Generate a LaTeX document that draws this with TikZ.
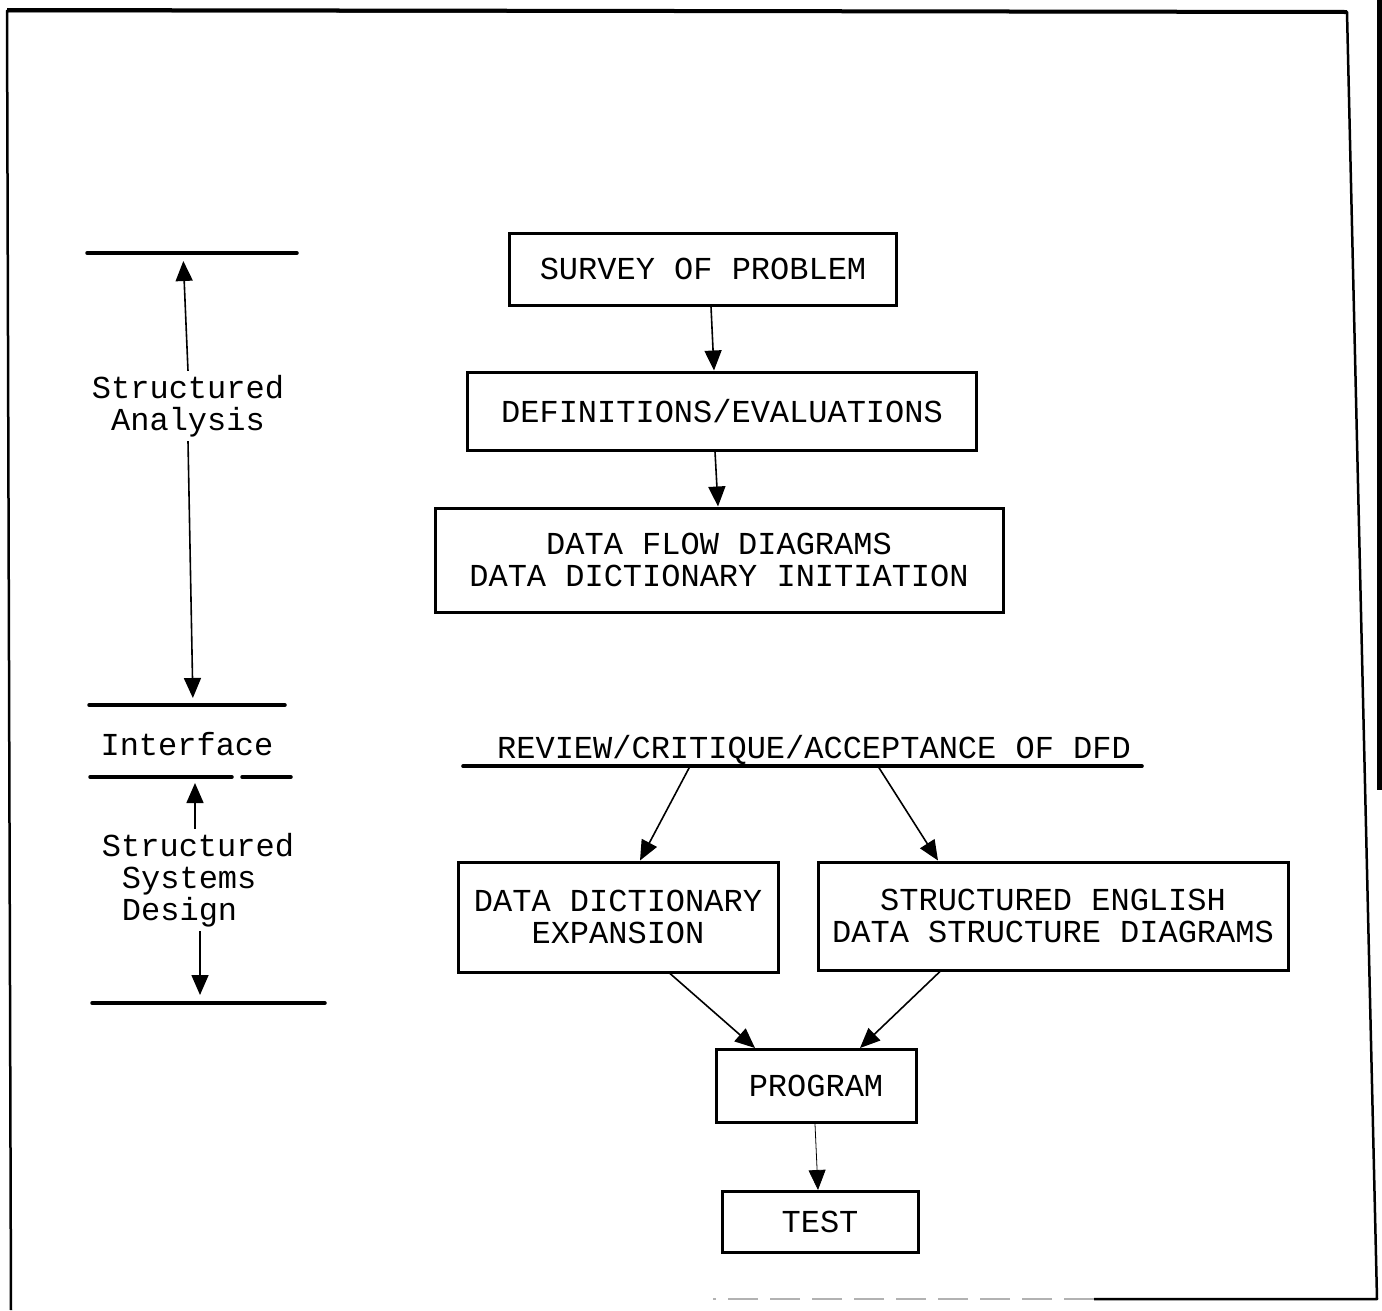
\documentclass[tikz,border=0pt]{standalone}
\usepackage{fontspec}
\setmonofont{Liberation Mono}
\usepackage{tikz}
\usetikzlibrary{arrows.meta,positioning}

\begin{document}
\begin{tikzpicture}[x=1pt, y=-1pt, node distance=140pt, font=\fontsize{32}{32}\selectfont\ttfamily]
    % Define styles
    \tikzstyle{stage} = [rectangle, draw, line width=3pt, text centered, align=center, inner sep=0pt]
    \tikzstyle{sidetext} = [align=center, inner xsep=0pt, inner ysep=4pt]
    \tikzstyle{arrow} = [line width=1.6pt, -{Triangle[width=17pt,length=20pt]}]
    \tikzstyle{bar} = [line width=3.5pt, line cap=round]

    \useasboundingbox (0,0) rectangle (1382,1310);

    % Page frame
    \draw [line width=2.5pt, line join=round] (11,1310) -- (7,11) -- (1347,12) -- (1377,1299) -- (1094,1299);
    \draw [line width=4pt] (7,10) -- (1347,12);
    \draw [line width=2pt, gray!60, dash pattern=on 30pt off 12pt] (1094,1299) -- (713,1299);
    \fill (1377,0) rectangle (1382,790);

    % Workflow steps
    \node [stage, minimum width=387pt, minimum height=72pt] (survey) at (703,269) {SURVEY OF PROBLEM};
    \node [stage, minimum width=509pt, minimum height=78pt, below of=survey, node distance=142pt, xshift=19pt] (defs) {DEFINITIONS/EVALUATIONS};
    \node [stage, minimum width=568pt, minimum height=104pt, below of=defs, node distance=149pt, xshift=-3pt] (dfd) {DATA FLOW DIAGRAMS\\DATA DICTIONARY INITIATION};
    \node [inner sep=0pt, text height=22pt, text depth=8pt, below of=dfd, node distance=191pt, xshift=95pt] (review) {REVIEW/CRITIQUE/ACCEPTANCE OF DFD};
    \draw [bar] ([xshift=-34pt]review.south west) -- ([xshift=11pt]review.south east);

    % Design steps
    \node [stage, minimum width=320pt, minimum height=110pt, below of=review, node distance=166pt, xshift=-196pt] (ddexp) {DATA DICTIONARY\\EXPANSION};
    \node [stage, minimum width=470pt, minimum height=108pt, below of=review, node distance=165pt, xshift=239pt] (senglish) {STRUCTURED ENGLISH\\DATA STRUCTURE DIAGRAMS};
    \node [stage, minimum width=200pt, minimum height=73pt, below of=review, node distance=335pt, xshift=2pt] (program) {PROGRAM};
    \node [stage, minimum width=196pt, minimum height=61pt, below of=program, node distance=136pt, xshift=4pt] (test) {TEST};

    % Arrows
    \draw [arrow] ([xshift=8pt]survey.south) -- ([xshift=-8pt]defs.north);
    \draw [arrow] ([xshift=-7pt]defs.south) -- ([xshift=-1pt]dfd.north);
    \draw [arrow] ([xshift=-124pt]review.south) -- ([xshift=22pt]ddexp.north);
    \draw [arrow] ([xshift=64pt]review.south) -- ([xshift=-115pt]senglish.north);
    \draw [arrow] ([xshift=52pt]ddexp.south) -- ([xshift=-61pt]program.north);
    \draw [arrow] ([xshift=-113pt]senglish.south) -- ([xshift=44pt]program.north);
    \draw [arrow, line width=0.8pt] ([xshift=-1pt]program.south) -- ([xshift=-2pt]test.north);

    % Phases on the left
    \coordinate (satop) at (183,253);
    \coordinate (sabot) at (193,705);
    \coordinate (ifbot) at (195,777);
    \coordinate (ssdbot) at (200,1003);
    \draw [bar] (87,253) -- (297,253);
    \draw [bar] (89,705) -- (285,705);
    \draw [bar] (90,777) -- (232,777);
    \draw [bar] (242,777) -- (291,777);
    \draw [bar] (92,1003) -- (325,1003);

    \node [sidetext] (sa) at (188,406) {Structured\\Analysis};
    \node [sidetext] (interface) at (187,744) {Interface};
    \node [sidetext, align=left] (ssd) at (198,880) {Structured\\\hspace*{20pt}Systems\\\hspace*{20pt}Design};

    \draw [arrow, shorten >=8pt] (sa.north) -- (satop);
    \draw [arrow, shorten >=7pt] (sa.south) -- (sabot);
    \draw [arrow, shorten >=6pt] ([xshift=-3pt]ssd.north) -- (ifbot);
    \draw [arrow, shorten >=8pt] ([xshift=2pt]ssd.south) -- (ssdbot);
\end{tikzpicture}
\end{document}
